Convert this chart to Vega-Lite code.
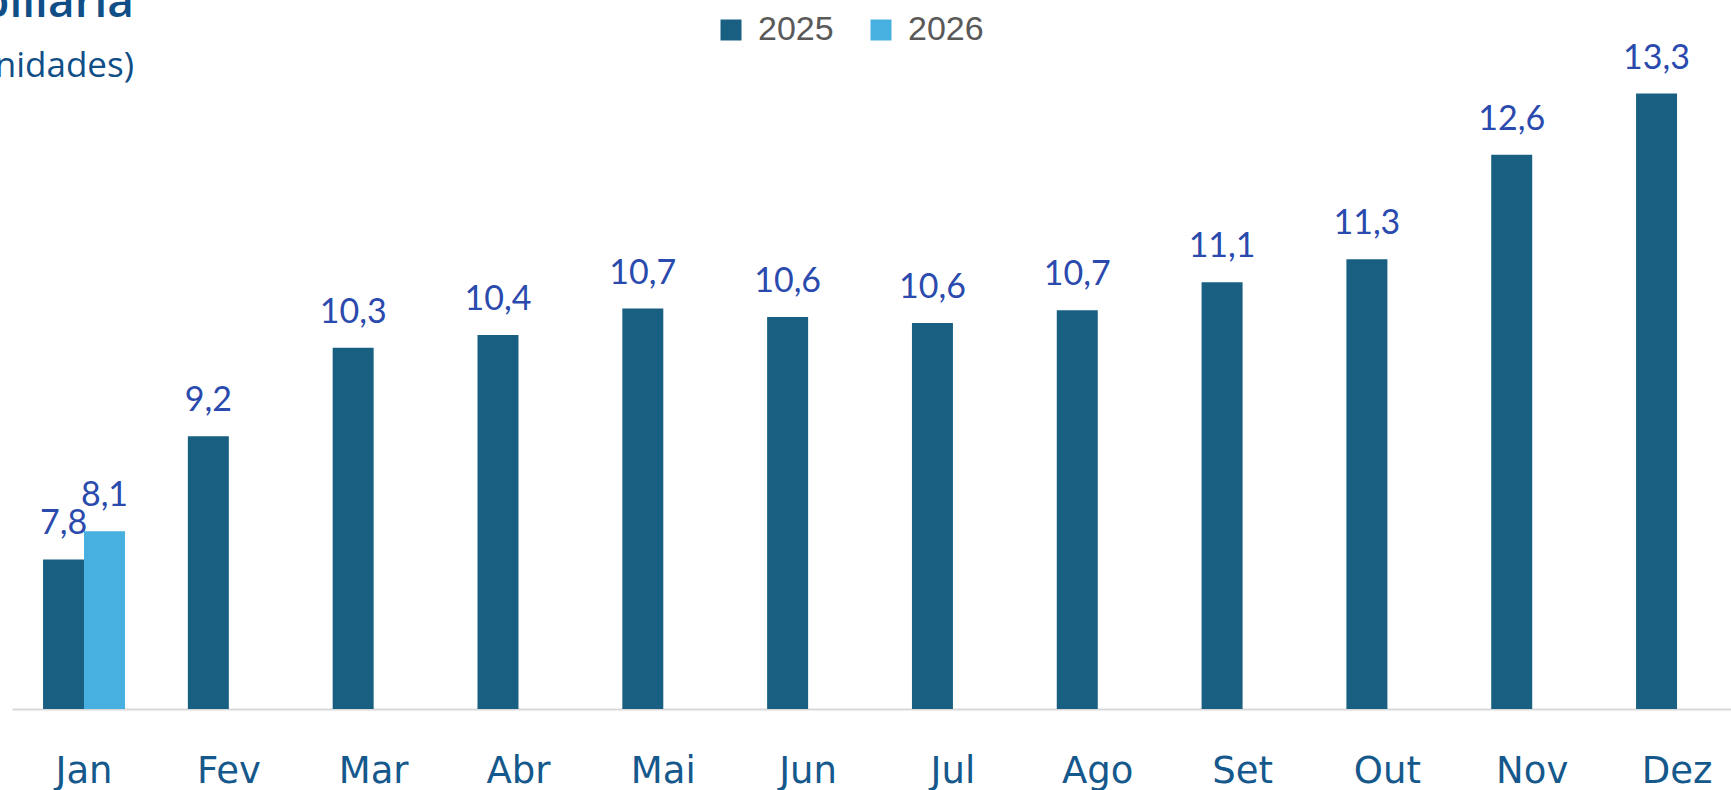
{
  "$schema": "https://vega.github.io/schema/vega-lite/v6.json",
  "width": 1719,
  "height": 677.5,
  "autosize": {"type": "none"},
  "padding": {"left": 12, "top": 31.5, "right": 0, "bottom": 81},
  "title": {
    "text": "Produção imobiliária",
    "subtitle": "(mil unidades)",
    "anchor": "start",
    "frame": "group",
    "align": "right",
    "dx": 122,
    "offset": -72,
    "font": "Open Sans",
    "fontSize": 46,
    "fontWeight": 600,
    "color": "#0f4e87",
    "subtitleFont": "Open Sans",
    "subtitleFontSize": 35,
    "subtitleColor": "#0f4e87",
    "subtitlePadding": 22
  },
  "data": {
    "values": [
      {"mes": "Jan", "ano": "2025", "valor": 7.79},
      {"mes": "Jan", "ano": "2026", "valor": 8.12},
      {"mes": "Fev", "ano": "2025", "valor": 9.24},
      {"mes": "Mar", "ano": "2025", "valor": 10.28},
      {"mes": "Abr", "ano": "2025", "valor": 10.43},
      {"mes": "Mai", "ano": "2025", "valor": 10.74},
      {"mes": "Jun", "ano": "2025", "valor": 10.64},
      {"mes": "Jul", "ano": "2025", "valor": 10.57},
      {"mes": "Ago", "ano": "2025", "valor": 10.72},
      {"mes": "Set", "ano": "2025", "valor": 11.05},
      {"mes": "Out", "ano": "2025", "valor": 11.32},
      {"mes": "Nov", "ano": "2025", "valor": 12.55},
      {"mes": "Dez", "ano": "2025", "valor": 13.27}
    ]
  },
  "encoding": {
    "x": {
      "field": "mes",
      "type": "nominal",
      "sort": ["Jan", "Fev", "Mar", "Abr", "Mai", "Jun", "Jul", "Ago", "Set", "Out", "Nov", "Dez"],
      "scale": {"paddingInner": 0.434, "paddingOuter": 0.152, "align": 0.705},
      "axis": {
        "title": null,
        "labelAngle": 0,
        "ticks": false,
        "tickSize": 0,
        "domainColor": "#d9d9d9",
        "domainWidth": 2,
        "labelFont": "DejaVu Sans",
        "labelFontSize": 37,
        "labelColor": "#15588c",
        "labelBaseline": "alphabetic",
        "labelPadding": 73
      }
    },
    "xOffset": {
      "field": "ano",
      "type": "nominal",
      "scale": {"domain": ["2025", "2026"], "paddingInner": 0, "paddingOuter": 0}
    },
    "y": {
      "field": "valor",
      "type": "quantitative",
      "scale": {"domain": [6.03, 14.0], "nice": false, "zero": false},
      "axis": null
    }
  },
  "layer": [
    {
      "mark": {"type": "bar", "clip": true},
      "encoding": {
        "color": {
          "field": "ano",
          "type": "nominal",
          "scale": {"domain": ["2025", "2026"], "range": ["#185f82", "#48b0e0"]},
          "legend": {
            "title": null,
            "orient": "none",
            "direction": "horizontal",
            "legendX": 702,
            "legendY": -18.5,
            "padding": 0,
            "symbolType": "square",
            "symbolSize": 441,
            "symbolStrokeWidth": 0,
            "labelFont": "Liberation Sans",
            "labelFontSize": 34,
            "labelColor": "#595959",
            "labelOffset": 10,
            "columnPadding": 30
          }
        }
      }
    },
    {
      "mark": {
        "type": "text",
        "dy": -25,
        "baseline": "alphabetic",
        "font": "Lato",
        "fontSize": 34,
        "color": "#2a4aad"
      },
      "encoding": {
        "text": {"field": "valor", "type": "quantitative", "format": ".1f"}
      }
    }
  ],
  "config": {
    "view": {"stroke": null},
    "locale": {
      "number": {"decimal": ",", "thousands": ".", "grouping": [3], "currency": ["R$", ""]}
    }
  }
}
